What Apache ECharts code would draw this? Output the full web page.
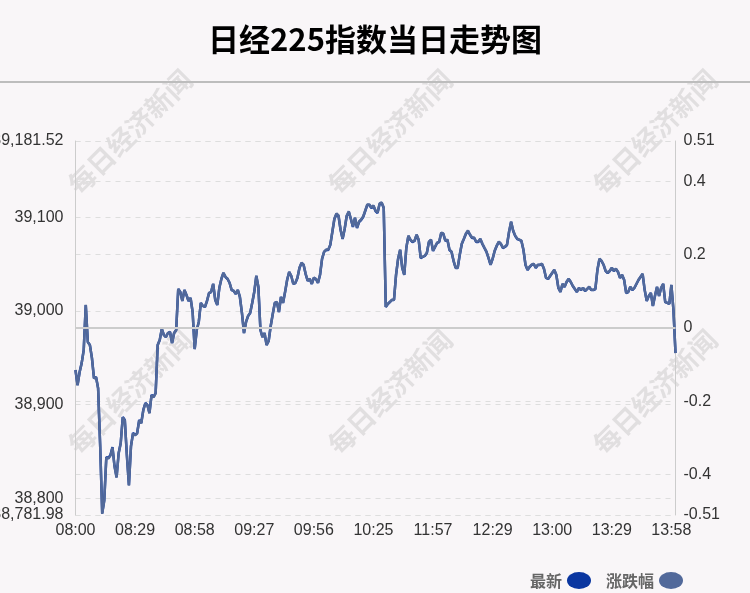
<!DOCTYPE html>
<html><head><meta charset="utf-8">
<script src="https://cdn.jsdelivr.net/npm/echarts@6/dist/echarts.min.js"></script>
<style>html,body{margin:0;padding:0;background:#f9f6f8}#c{width:750px;height:593px}</style>
</head><body><div id="c"></div>
<script>
const chartTitle = '日经225指数当日走势图';
const watermarkText = '每日经济新闻';
// trading sessions (Beijing time) used as category labels
const sessions = [["08:00","10:30"],["11:30","11:39"],["11:44","12:09"],["12:13","12:44"],["12:47","14:00"]];
const prevClose = 38981.75;
const priceMin = 38781.98, priceMax = 39181.52;
const pctMin = -0.51, pctMax = 0.51;
const priceTicks = [38781.98, 38800, 38900, 39000, 39100, 39181.52];
const pctTicks = [-0.51, -0.4, -0.2, 0, 0.2, 0.4, 0.51];
const seriesNames = ['最新', '涨跌幅'];
const prices = [
38936.9,38920.9,38934.7,38944.2,38958.2,39006.3,38966.8,38963.6,38949.7,38928.3,
38929.4,38917.6,38856.8,38784.1,38798.0,38843.9,38842.9,38846.1,38854.6,38834.3,
38822.6,38848.2,38858.9,38886.7,38883.5,38846.1,38814.0,38855.7,38869.6,38867.5,
38869.6,38883.5,38880.3,38894.2,38901.6,38899.5,38891.0,38910.2,38908.1,38912.3,
38963.6,38968.9,38980.7,38974.3,38972.1,38976.4,38977.5,38965.7,38976.4,38979.6,
39023.4,39020.2,39010.6,39022.3,39017.0,39010.6,39013.8,38998.8,38959.3,38979.6,
38988.2,39008.5,39005.3,39004.2,39010.6,39019.1,39020.2,39028.8,39011.7,39006.3,
39024.5,39034.1,39040.5,39036.2,39034.1,39029.8,39022.3,39021.3,39018.1,39022.3,
39014.9,38997.8,38976.4,38988.2,38994.6,38997.8,39008.5,39020.2,39037.3,39025.6,
38979.6,38972.1,38976.4,38963.6,38967.9,38983.9,38996.7,39008.5,39009.5,38998.8,
39014.9,39008.5,39020.2,39033.0,39041.6,39037.3,39028.8,39029.8,39035.2,39045.9,
39051.2,39049.1,39039.4,39032.0,39034.1,39028.8,39035.2,39034.1,39029.8,39038.4,
39055.5,39063.0,39065.1,39065.1,39070.4,39084.3,39098.2,39103.5,39101.4,39086.4,
39076.8,39087.5,39101.4,39105.7,39098.2,39089.6,39099.3,39088.6,39095.0,39097.1,
39100.3,39106.7,39113.1,39113.1,39109.9,39112.1,39106.7,39104.6,39114.2,39115.3,
39109.9,39004.2,39007.4,39009.5,39011.7,39011.7,39038.4,39055.5,39065.1,39045.9,
39038.4,39067.2,39080.0,39075.8,39073.6,39074.7,39081.1,39075.8,39056.5,39057.6,
39058.7,39061.9,39073.6,39075.8,39064.0,39068.3,39072.6,39073.6,39083.2,39082.2,
39074.7,39075.8,39065.1,39063.0,39053.3,39045.9,39045.9,39059.7,39071.5,39076.8,
39082.2,39085.4,39081.1,39077.9,39077.9,39073.6,39073.6,39076.8,39071.5,39067.2,
39063.0,39056.5,39049.1,39055.5,39064.0,39069.4,39073.6,39071.5,39067.2,39068.3,
39070.4,39084.3,39095.0,39085.4,39080.0,39076.8,39075.8,39074.7,39065.1,39049.1,
39043.7,39046.9,39049.1,39050.1,39045.9,39049.1,39049.1,39050.1,39044.8,39035.2,
39034.1,39037.3,39040.5,39043.7,39038.4,39024.5,39020.2,39028.8,39025.6,39030.9,
39034.1,39030.9,39026.6,39023.4,39020.2,39024.5,39022.3,39024.5,39021.3,39023.4,
39025.6,39022.3,39022.3,39023.4,39043.7,39055.5,39053.3,39049.1,39042.6,39040.5,
39042.6,39045.9,39042.6,39044.8,39041.6,39035.2,39038.4,39033.0,39019.1,39020.2,
39025.6,39022.3,39024.5,39028.8,39033.0,39036.2,39039.4,39022.3,39010.6,39015.9,
39019.1,39005.3,39015.9,39025.6,39015.9,39024.5,39028.8,39009.5,39008.5,39007.4,
39027.7,39001.0,38955.0
];

function toMin(s){const p=s.split(':');return (+p[0])*60+(+p[1]);}
function fmt(m){const h=Math.floor(m/60),mm=m%60;return (h<10?'0':'')+h+':'+(mm<10?'0':'')+mm;}
const categories = [];
sessions.forEach(([a,b])=>{for(let m=toMin(a);m<=toMin(b);m++)categories.push(fmt(m));});
const changes = prices.map(p => +(((p - prevClose) / prevClose) * 100).toFixed(4));

const wmPos = [[130,132],[390,132],[655,132],[130,392],[390,392],[655,392]];
const graphics = wmPos.map(([x,y]) => ({
  type:'text', x:x, y:y, rotation: Math.PI/4, z:-1, silent:true,
  style:{text:watermarkText, fill:'rgba(140,140,140,0.22)', font:'bold 27px "Noto Sans CJK SC"', align:'center', verticalAlign:'middle'}
}));
graphics.push({type:'line', shape:{x1:0,y1:82,x2:750,y2:82}, style:{stroke:'#bdbdbd', lineWidth:2}, silent:true});

const chart = echarts.init(document.getElementById('c'));
const labelFont = {fontSize:16, color:'#333', fontFamily:'Liberation Sans, Arial, sans-serif'};
chart.setOption({
  animation:false,
  backgroundColor:'#f9f6f8',
  title:{text:chartTitle, left:'center', top:19, textStyle:{fontSize:31, fontWeight:'bold', color:'#000', fontFamily:'"Noto Sans CJK SC"'}},
  graphic: graphics,
  legend:{
    data:seriesNames, right:62, top:567, align:'right', itemWidth:24, itemHeight:17, itemGap:15,
    icon:'path://M0,8.5 A12,8.5 0 1,1 24,8.5 A12,8.5 0 1,1 0,8.5 Z',
    textStyle:{fontSize:16, color:'#666', fontWeight:'bold', fontFamily:'"Noto Sans CJK SC"'}
  },
  grid:{left:75.5, right:74.5, top:141, bottom:78, containLabel:false, outerBoundsMode:'none'},
  xAxis:{
    type:'category', data:categories, boundaryGap:false,
    axisLine:{show:false}, axisTick:{show:false}, splitLine:{show:false},
    axisLabel:Object.assign({interval:28, margin:8}, labelFont)
  },
  yAxis:[{
    type:'value', min:priceMin, max:priceMax, position:'left',
    axisLine:{show:true, lineStyle:{color:'#cccccc', width:1}},
    axisTick:{show:false, customValues:priceTicks},
    axisLabel:Object.assign({customValues:priceTicks, margin:12,
      formatter:v=>Number(v).toLocaleString('en-US',{maximumFractionDigits:2})}, labelFont),
    splitLine:{show:true, lineStyle:{color:'#dedede', type:[5,5], width:1}}
  },{
    type:'value', min:pctMin, max:pctMax, position:'right',
    axisLine:{show:true, lineStyle:{color:'#cccccc', width:1}},
    axisTick:{show:false, customValues:pctTicks},
    axisLabel:Object.assign({customValues:pctTicks, margin:8, formatter:v=>String(+Number(v).toFixed(2))}, labelFont),
    splitLine:{show:true, lineStyle:{color:'#dedede', type:[5,5], width:1}}
  }],
  series:[{
    name:seriesNames[0], type:'line', yAxisIndex:0, data:prices, symbol:'none',
    itemStyle:{color:'#0a36a0'}, lineStyle:{color:'#0a36a0', width:2.5}
  },{
    name:seriesNames[1], type:'line', yAxisIndex:1, data:changes, symbol:'none',
    itemStyle:{color:'#52699a'}, lineStyle:{color:'#52699a', width:2.5},
    markLine:{silent:true, symbol:'none', label:{show:false}, lineStyle:{color:'#cccccc', type:'solid', width:2}, data:[{yAxis:0}]}
  }]
});
</script></body></html>
